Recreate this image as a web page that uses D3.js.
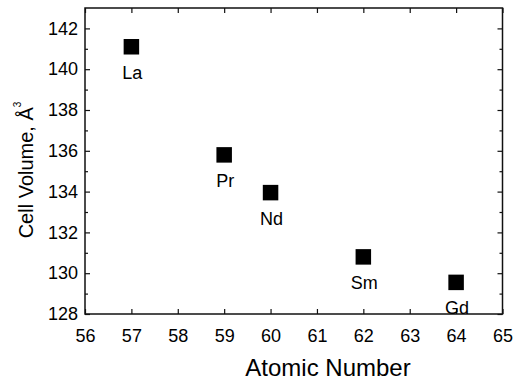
<!DOCTYPE html>
<html>
<head>
<meta charset="utf-8">
<script src="https://cdn.jsdelivr.net/npm/d3@7"></script>
<style>
  body { margin: 0; background: #fff; }
  svg text { font-family: Arial, "Liberation Sans", sans-serif; fill: #000; }
</style>
</head>
<body>
<div id="chart"></div>
<script>
// lanthanide cell volumes
const elements = ['La', 'Pr', 'Nd', 'Sm', 'Gd'];
const atomicNumbers = [57, 59, 60, 62, 64];
const cellVolumes = [141.1, 135.8, 133.95, 130.8, 129.55];

const xTicks = [56, 57, 58, 59, 60, 61, 62, 63, 64, 65];
const yTicks = [128, 130, 132, 134, 136, 138, 140, 142];
const yMinorTicks = [129, 131, 133, 135, 137, 139, 141];

const width = 515, height = 382;
const margin = { top: 8, right: 12.5, bottom: 68, left: 85 };
const innerW = width - margin.left - margin.right;
const innerH = height - margin.top - margin.bottom;

const svg = d3.select('#chart').append('svg')
    .attr('width', width)
    .attr('height', height);

const g = svg.append('g')
    .attr('transform', 'translate(' + margin.left + ',' + margin.top + ')');

const x = d3.scaleLinear().domain([56, 65]).range([0, innerW]);
const y = d3.scaleLinear().domain([128, 143]).range([innerH, 0]);

// axes: ticks point inward, labels only on bottom and left
function styleAxis(sel) {
    sel.select('.domain').remove();
    sel.selectAll('line').attr('stroke', '#111').attr('stroke-width', 1.2);
    sel.selectAll('text').attr('font-size', 18).attr('fill', '#000');
}

g.append('g')
    .attr('transform', 'translate(0,' + innerH + ')')
    .call(d3.axisBottom(x).tickValues(xTicks).tickSize(-5).tickSizeOuter(0).tickPadding(15).tickFormat(d3.format('d')))
    .call(styleAxis);

g.append('g')
    .call(d3.axisTop(x).tickValues(xTicks).tickSize(-5).tickSizeOuter(0).tickFormat(''))
    .call(styleAxis);

g.append('g')
    .call(d3.axisLeft(y).tickValues(yTicks).tickSize(-5).tickSizeOuter(0).tickPadding(7).tickFormat(d3.format('d')))
    .call(styleAxis);

g.append('g')
    .attr('transform', 'translate(' + innerW + ',0)')
    .call(d3.axisRight(y).tickValues(yTicks).tickSize(-5).tickSizeOuter(0).tickFormat(''))
    .call(styleAxis);

// minor ticks on y
g.append('g')
    .call(d3.axisLeft(y).tickValues(yMinorTicks).tickSize(-3).tickSizeOuter(0).tickFormat(''))
    .call(styleAxis);
g.append('g')
    .attr('transform', 'translate(' + innerW + ',0)')
    .call(d3.axisRight(y).tickValues(yMinorTicks).tickSize(-3).tickSizeOuter(0).tickFormat(''))
    .call(styleAxis);

// frame
g.append('rect')
    .attr('width', innerW)
    .attr('height', innerH)
    .attr('fill', 'none')
    .attr('stroke', '#111')
    .attr('stroke-width', 1.5);

// points
const points = atomicNumbers.map((z, i) => ({ z: z, v: cellVolumes[i], name: elements[i] }));
const size = 15.5;

g.selectAll('.point')
    .data(points)
    .enter()
    .append('rect')
    .attr('class', 'point')
    .attr('x', d => x(d.z) - size / 2)
    .attr('y', d => y(d.v) - size / 2)
    .attr('width', size)
    .attr('height', size)
    .attr('fill', '#000');

g.selectAll('.point-label')
    .data(points)
    .enter()
    .append('text')
    .attr('class', 'point-label')
    .attr('x', d => x(d.z) + 1)
    .attr('y', d => y(d.v) + 32)
    .attr('text-anchor', 'middle')
    .attr('font-size', 18)
    .text(d => d.name);

// axis titles
svg.append('text')
    .attr('x', 328)
    .attr('y', 376)
    .attr('text-anchor', 'middle')
    .attr('font-size', 24)
    .text('Atomic Number');

const yTitle = svg.append('text')
    .attr('transform', 'translate(33,170) rotate(-90)')
    .attr('text-anchor', 'middle')
    .attr('font-size', 20)
    .text('Cell Volume, Å');
yTitle.append('tspan')
    .attr('font-size', 10)
    .attr('dy', -12)
    .text('3');
</script>
</body>
</html>
